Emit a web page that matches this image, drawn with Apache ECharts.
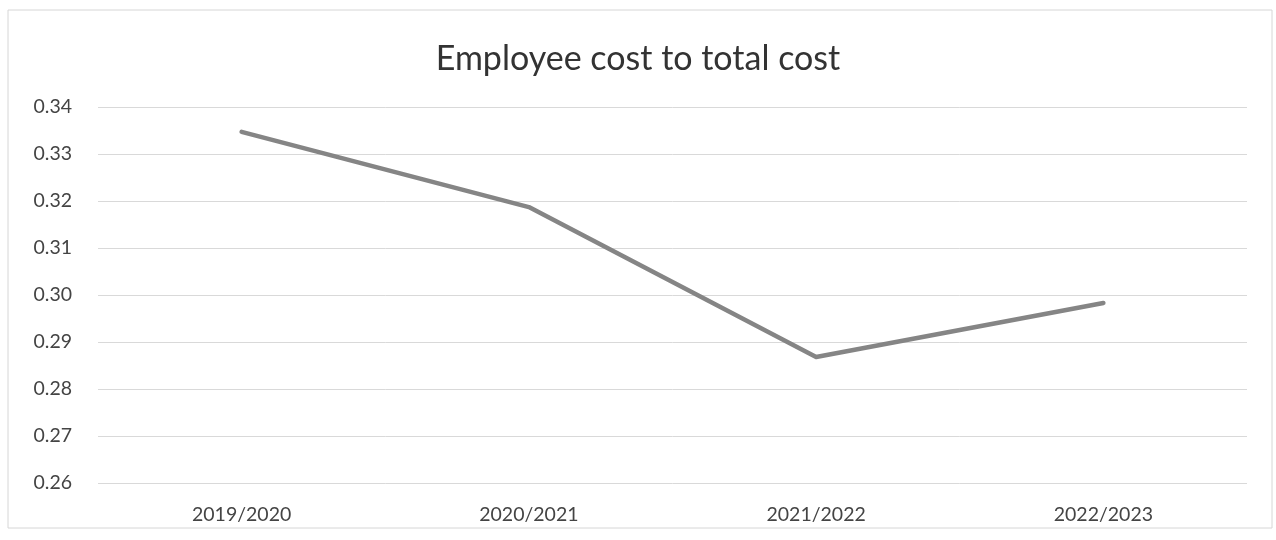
<!DOCTYPE html>
<html>
<head>
<meta charset="utf-8">
<script src="https://cdn.jsdelivr.net/npm/echarts@6/dist/echarts.min.js"></script>
<style>
  html, body { margin: 0; padding: 0; background: #fff; }
  #chart { width: 1276px; height: 540px; }
</style>
</head>
<body>
<div id="chart"></div>
<script>
// Financial years on the category axis
const years = ['2019/2020', '2020/2021', '2021/2022', '2022/2023'];
// Ratio of employee cost to total cost per year
const ratios = [0.3347, 0.3187, 0.2868, 0.2983];
// Value axis range and step
const yMin = 0.26;
const yMax = 0.34;
const yStep = 0.01;

const chart = echarts.init(document.getElementById('chart'));
chart.setOption({
  backgroundColor: '#ffffff',
  animation: false,
  title: {
    text: 'Employee cost to total cost',
    left: 'center',
    top: 37,
    textStyle: {
      fontFamily: 'Lato, "Open Sans", sans-serif',
      fontSize: 34,
      fontWeight: 'normal',
      color: '#333333'
    }
  },
  graphic: [{
    type: 'rect',
    shape: { x: 8, y: 10, width: 1264, height: 518 },
    style: { fill: 'none', stroke: '#d6d6d6', lineWidth: 1 },
    silent: true
  }],
  grid: { left: 98, right: 29, top: 107, bottom: 57 },
  xAxis: {
    type: 'category',
    data: years,
    boundaryGap: true,
    axisLine: { show: false },
    axisTick: { show: false },
    axisLabel: {
      fontFamily: 'Lato, "Open Sans", sans-serif',
      fontSize: 19.5,
      color: '#444444',
      margin: 22
    }
  },
  yAxis: {
    type: 'value',
    min: yMin,
    max: yMax,
    interval: yStep,
    axisLine: { show: false },
    axisTick: { show: false },
    axisLabel: {
      fontFamily: 'Lato, "Open Sans", sans-serif',
      fontSize: 19.5,
      color: '#444444',
      margin: 26,
      formatter: v => v.toFixed(2)
    },
    splitLine: { lineStyle: { color: '#d9d9d9', width: 1 } }
  },
  series: [{
    type: 'line',
    data: ratios,
    symbol: 'none',
    lineStyle: { color: '#858585', width: 4.5, cap: 'round', join: 'round' }
  }]
});
</script>
</body>
</html>
